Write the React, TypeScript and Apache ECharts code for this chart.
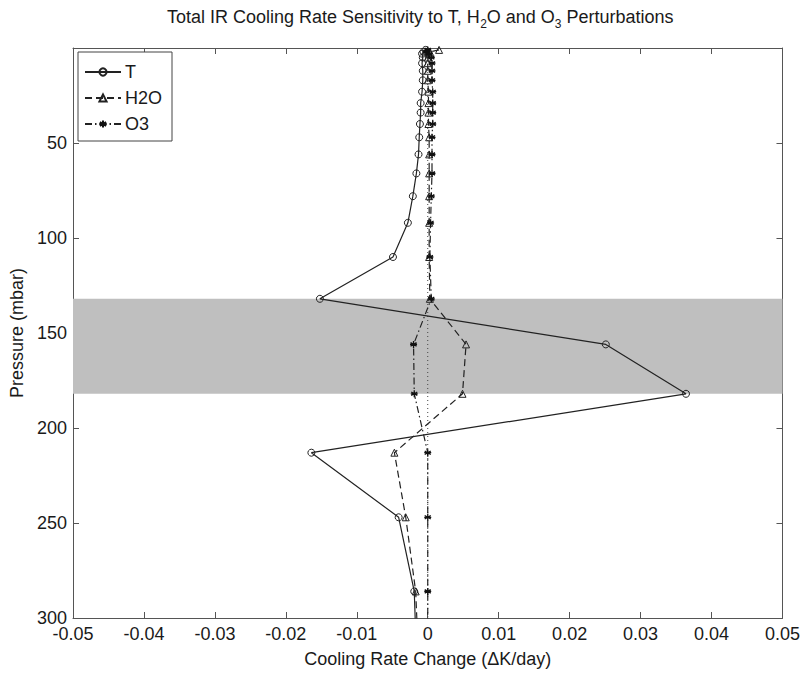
import React, { useEffect, useRef } from "react";
import * as echarts from "echarts";

const pressure = [1, 2, 3, 5, 8, 12, 17, 23, 29, 34, 40, 47, 56, 66, 78, 92, 110, 132, 156, 182, 213, 247, 286, 330];
const tRate = [-0.0003, -0.0006, -0.0008, -0.0007, -0.0008, -0.0007, -0.0007, -0.0008, -0.001, -0.001, -0.0011, -0.0012, -0.0013, -0.0016, -0.0021, -0.0028, -0.0049, -0.0152, 0.0251, 0.0364, -0.0164, -0.0041, -0.0019, -0.0015];
const h2oRate = [0.0016, 0.0003, 0.0001, 0.0, 0.0, 0.0, 0.0, 0.0001, 0.0001, 0.0001, 0.0001, 0.0002, 0.0002, 0.0002, 0.0002, 0.0002, 0.0002, 0.0003, 0.0054, 0.0049, -0.0047, -0.0031, -0.0017, -0.0012];
const o3Rate = [0.0, -0.0002, 0.0002, 0.0005, 0.0006, 0.0006, 0.0006, 0.0007, 0.0007, 0.0007, 0.0007, 0.0006, 0.0006, 0.0006, 0.0005, 0.0004, 0.0003, 0.0005, -0.002, -0.0019, 0.0, 0.0, 0.0, 0.0];
const bandRange = [132, 182];
const zeroLine = [0, 300];
const seriesNames = ["T", "H2O", "O3"];

const FONT = "Liberation Sans, Arial, Helvetica, sans-serif";
const INK = "#1a1a1a";
const AX = "#555";

const asterisk = "path://M0,-5L0,5M-4.33,-2.5L4.33,2.5M-4.33,2.5L4.33,-2.5M-5,0L5,0";

export default function App() {
  const ref = useRef<HTMLDivElement>(null);
  useEffect(() => {
    if (!ref.current) return;
    const chart = echarts.init(ref.current, null, { renderer: "svg" });
    const fmt = (v: number) => (Math.abs(v) < 1e-9 ? "0" : String(+v.toFixed(2)));
    const axisCommon = {
      axisLine: { show: true, onZero: false, lineStyle: { color: AX, width: 1 } },
      axisTick: { show: true, inside: true, length: 6, lineStyle: { color: AX } },
      splitLine: { show: false },
    };
    const mk = (vals: number[]) => pressure.map((p, i) => [vals[i], p]);
    chart.setOption({
      animation: false,
      backgroundColor: "#fff",
      title: {
        text: "{a|Total IR Cooling Rate Sensitivity to T, H}{b|2}{a|O and O}{b|3}{a| Perturbations}",
        left: 162,
        top: 3,
        textStyle: {
          fontWeight: "normal",
          rich: {
            a: { fontSize: 18, fontFamily: FONT, color: INK, fontWeight: "normal", lineHeight: 22, verticalAlign: "bottom", padding: [0, 0, 4, 0] },
            b: { fontSize: 12, fontFamily: FONT, color: INK, fontWeight: "normal", lineHeight: 13, verticalAlign: "bottom" },
          },
        },
      },
      legend: {
        data: seriesNames,
        orient: "vertical",
        left: 78,
        top: 52,
        padding: [11, 10, 8, 6],
        itemGap: 8,
        itemWidth: 36,
        itemHeight: 9,
        backgroundColor: "#fff",
        borderColor: "#444",
        borderWidth: 1,
        borderRadius: 0,
        textStyle: { fontSize: 18, fontFamily: FONT, color: INK, padding: [0, 0, 0, -1] },
      },
      grid: { left: 73, right: 19, top: 48, bottom: 57 },
      xAxis: [
        {
          type: "value",
          min: -0.05,
          max: 0.05,
          interval: 0.01,
          position: "bottom",
          name: "Cooling Rate Change (\u0394K/day)",
          nameLocation: "middle",
          nameGap: 32,
          nameTextStyle: { fontSize: 18, fontFamily: FONT, color: INK },
          axisLabel: { fontSize: 18, fontFamily: FONT, color: INK, margin: 7, formatter: fmt },
          ...axisCommon,
        },
        {
          type: "value",
          min: -0.05,
          max: 0.05,
          interval: 0.01,
          position: "top",
          axisLabel: { show: false },
          ...axisCommon,
        },
      ],
      yAxis: [
        {
          type: "value",
          inverse: true,
          min: 0,
          max: 300,
          interval: 50,
          position: "left",
          name: "Pressure (mbar)",
          nameLocation: "middle",
          nameGap: 35,
          nameRotate: 90,
          nameTextStyle: { fontSize: 18, fontFamily: FONT, color: INK },
          axisLabel: { fontSize: 18, fontFamily: FONT, color: INK, margin: 6, showMinLabel: false },
          ...axisCommon,
        },
        {
          type: "value",
          inverse: true,
          min: 0,
          max: 300,
          interval: 50,
          position: "right",
          axisLabel: { show: false },
          ...axisCommon,
        },
      ],
      series: [
        {
          name: "band",
          type: "line",
          data: [],
          z: 0,
          silent: true,
          markArea: {
            silent: true,
            itemStyle: { color: "#bfbfbf" },
            data: [[{ yAxis: bandRange[0] }, { yAxis: bandRange[1] }]],
          },
        },
        {
          name: "zero",
          type: "line",
          data: zeroLine.map((p) => [0, p]),
          symbol: "none",
          z: 1,
          silent: true,
          lineStyle: { color: "#444", width: 1, type: [1, 3] },
        },
        {
          name: "T",
          type: "line",
          data: mk(tRate),
          z: 3,
          symbol: "circle",
          symbolSize: 7,
          clip: true,
          itemStyle: { color: "rgba(0,0,0,0)", borderColor: "#222", borderWidth: 1 },
          lineStyle: { color: "#222", width: 1.2, type: "solid" },
        },
        {
          name: "H2O",
          type: "line",
          data: mk(h2oRate),
          z: 3,
          symbol: "triangle",
          symbolSize: 7,
          clip: true,
          itemStyle: { color: "rgba(0,0,0,0)", borderColor: "#222", borderWidth: 1 },
          lineStyle: { color: "#222", width: 1.2, type: [7, 4] },
        },
        {
          name: "O3",
          type: "line",
          data: mk(o3Rate),
          z: 3,
          symbol: asterisk,
          symbolSize: 7,
          clip: true,
          itemStyle: { color: "#111", borderColor: "#111", borderWidth: 1.3 },
          lineStyle: { color: "#222", width: 1.2, type: [7, 3, 1.5, 3] },
        },
      ],
    });
    return () => chart.dispose();
  }, []);
  return <div ref={ref} style={{ position: "absolute", left: 0, top: 0, width: 803, height: 675 }} />;
}
